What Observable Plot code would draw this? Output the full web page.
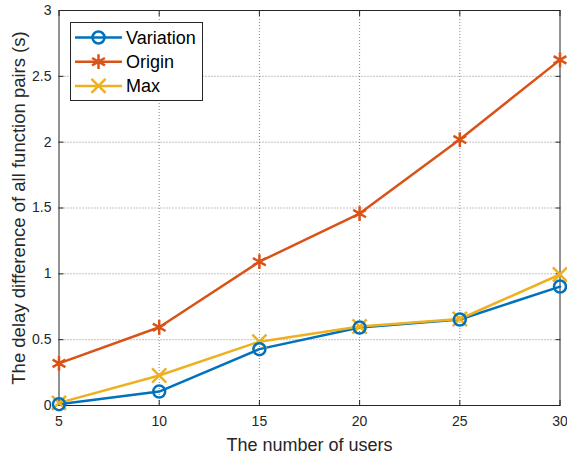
<!DOCTYPE html>
<html>
<head>
<meta charset="utf-8">
<script src="https://cdn.jsdelivr.net/npm/d3@7"></script>
<script src="https://cdn.jsdelivr.net/npm/@observablehq/plot@0.6"></script>
<style>
  html, body { margin: 0; padding: 0; background: #fff; }
  #wrap { position: relative; width: 567px; height: 458px; font-family: "Liberation Sans", Arial, sans-serif; }
  #legend { position: absolute; left: 70px; top: 22px; }
</style>
</head>
<body>
<div id="wrap"><div id="chart"></div><div id="legend"></div></div>
<script>
const users = [5, 10, 15, 20, 25, 30];
const variation = [0.01, 0.106, 0.428, 0.592, 0.653, 0.903];
const origin = [0.32, 0.594, 1.092, 1.458, 2.02, 2.625];
const maxv = [0.02, 0.228, 0.485, 0.600, 0.657, 0.995];
const seriesNames = ["Variation", "Origin", "Max"];
const seriesColors = ["#0072BD", "#D95319", "#EDB120"];
const seriesSymbols = ["circle", "asterisk", "times"];
const xTicks = [5, 10, 15, 20, 25, 30];
const yTicks = [0, 0.5, 1, 1.5, 2, 2.5, 3];
const yTickLabels = ["0", "0.5", "1", "1.5", "2", "2.5", "3"];

const seriesValues = [variation, origin, maxv];
const data = [];
seriesNames.forEach((s, i) => users.forEach((u, j) => data.push({series: s, x: u, y: seriesValues[i][j]})));

const font = "Liberation Sans, Arial, sans-serif";
const gridColor = "#262626";
const symR = {Variation: 6, Origin: 7, Max: 6.5};

const chart = Plot.plot({
  width: 567,
  height: 458,
  marginLeft: 58.5,
  marginRight: 7.5,
  marginTop: 10,
  marginBottom: 53,
  style: {fontFamily: font, fontSize: "14px", color: "#262626", background: "#fff"},
  x: {domain: [5, 30], ticks: xTicks},
  y: {domain: [0, 3], ticks: yTicks},
  r: {type: "identity"},
  color: {domain: seriesNames, range: seriesColors},
  symbol: {domain: seriesNames, range: seriesSymbols},
  marks: [
    Plot.gridX(xTicks.slice(1, -1), {stroke: gridColor, strokeOpacity: 0.55, strokeDasharray: "1,2", strokeWidth: 1}),
    Plot.gridY(yTicks.slice(1, -1), {stroke: gridColor, strokeOpacity: 0.55, strokeDasharray: "1,2", strokeWidth: 1}),
    Plot.frame({stroke: "#262626", strokeWidth: 1}),
    Plot.axisX(xTicks, {anchor: "bottom", tickSize: -5, tickPadding: 16, fontSize: 14, label: null, stroke: "#262626"}),
    Plot.axisX(xTicks, {anchor: "top", tickSize: -5, tickFormat: () => "", label: null}),
    Plot.axisY(yTicks, {anchor: "left", tickSize: -5, tickPadding: 12.5, fontSize: 14, label: null,
      tickFormat: (d) => yTickLabels[yTicks.indexOf(d)]}),
    Plot.axisY(yTicks, {anchor: "right", tickSize: -5, tickFormat: () => "", label: null}),
    Plot.line(data, {x: "x", y: "y", stroke: "series", strokeWidth: 2.5}),
    Plot.dot(data, {x: "x", y: "y", stroke: "series", symbol: "series", r: (d) => symR[d.series], strokeWidth: 2.5, fill: "none"}),
    Plot.text(["The number of users"], {frameAnchor: "bottom", lineAnchor: "middle", dy: 40, fontSize: 18, fill: "#262626"}),
    Plot.text(["The delay difference of all function pairs (s)"], {frameAnchor: "left", textAnchor: "middle", lineAnchor: "middle", dx: -40, rotate: -90, fontSize: 18.5, fill: "#262626"})
  ]
});
document.getElementById("chart").appendChild(chart);

// Legend
const lw = 133, lh = 79;
const lsvg = d3.select("#legend").append("svg").attr("width", lw).attr("height", lh)
  .style("font-family", font).style("overflow", "visible");
lsvg.append("rect").attr("x", 0.5).attr("y", 0.5).attr("width", lw - 1).attr("height", lh - 1)
  .attr("fill", "#fff").attr("stroke", "#262626").attr("stroke-width", 1);
const symMap = {circle: d3.symbolCircle, asterisk: d3.symbolAsterisk, times: d3.symbolTimes};
seriesNames.forEach((s, i) => {
  const cy = 15.5 + i * 24.2;
  const g = lsvg.append("g");
  g.append("line").attr("x1", 5).attr("x2", 52).attr("y1", cy).attr("y2", cy)
    .attr("stroke", seriesColors[i]).attr("stroke-width", 2.5);
  const r = symR[s];
  g.append("path").attr("transform", `translate(28.5,${cy})`)
    .attr("d", d3.symbol(symMap[seriesSymbols[i]], r * r * Math.PI)())
    .attr("fill", "none").attr("stroke", seriesColors[i]).attr("stroke-width", 2.5);
  g.append("text").attr("x", 56).attr("y", cy).attr("dy", "0.35em")
    .attr("font-size", 18).attr("fill", "#000").text(s);
});
</script>
</body>
</html>
